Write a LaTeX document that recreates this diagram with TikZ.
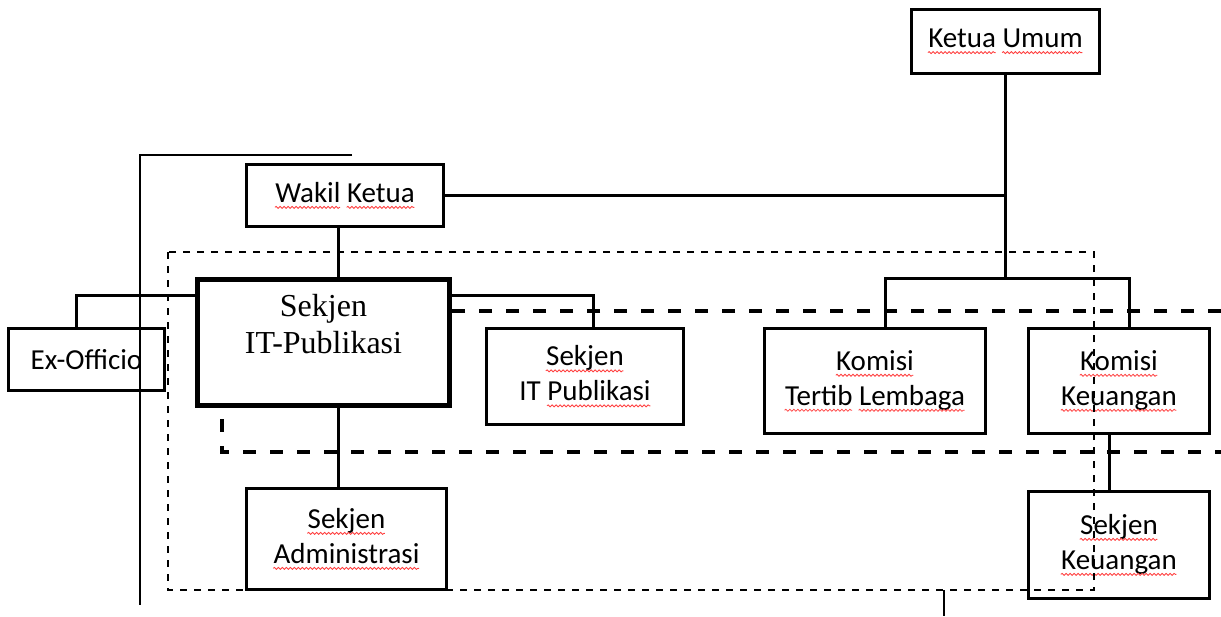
\documentclass[tikz,border=0pt]{standalone}
\usepackage{fontspec}
\setmainfont{Carlito}
\newfontfamily\timesfont{Liberation Serif}
\usetikzlibrary{decorations.pathmorphing}
\newsavebox\spellbox
\newcommand{\spell}[1]{\sbox\spellbox{#1}\usebox\spellbox\llap{\tikz[baseline=0pt]\draw[red!75, line width=0.4pt, decorate, decoration={snake, amplitude=0.5pt, segment length=2pt}] (0pt,-2.5pt) -- (\wd\spellbox,-2.5pt);}}

\begin{document}
\begin{tikzpicture}[x=0.5pt, y=-0.5pt]
            % Styles
            \tikzstyle{unit} = [rectangle, draw, line width=1.5pt, fill=white, align=center, inner sep=0pt, font=\fontsize{14.5}{17.5}\selectfont]
            \tikzstyle{chief} = [unit, line width=2.5pt, font=\timesfont\fontsize{16}{18.5}\selectfont]
            \tikzstyle{link} = [line width=1.5pt]
            \tikzstyle{frame} = [line width=0.75pt, dash pattern=on 3.5pt off 3.5pt]
            \tikzstyle{band} = [line width=2pt, dash pattern=on 6.5pt off 7pt]

            \useasboundingbox (0,0) rectangle (1221,616);

            % Dashed band behind the boxes
            \draw[band] (1221,311) -- (222,311) -- (222,452) -- (1221,452);

            % Nodes
            \node[unit, minimum width=94pt, minimum height=32pt] (ketua) at (1005.5, 41.5) {\spell{Ketua} \spell{Umum}};
            \node[unit, minimum width=98.5pt, minimum height=31pt] (wakil) at (345, 195.5) {\spell{Wakil} \spell{Ketua}};
            \node[chief, minimum width=126pt, minimum height=63pt] (itbig) at (323.5, 342.5) {Sekjen\\IT-Publikasi\\\mbox{}};
            \node[unit, minimum width=78pt, minimum height=31pt] (exoff) at (86.5, 359.5) {Ex-Officio};
            \node[unit, minimum width=98.5pt, minimum height=48pt] (itpub) at (585, 376.5) {\spell{Sekjen}\\IT \spell{Publikasi}};
            \node[unit, minimum width=110.5pt, minimum height=52.5pt] (tertib) at (875, 381) {\spell{Komisi}\\\spell{Tertib} \spell{Lembaga}};
            \node[unit, minimum width=90.5pt, minimum height=52.5pt] (kkeu) at (1119, 381) {\spell{Komisi}\\\spell{Keuangan}};
            \node[unit, minimum width=90.5pt, minimum height=53.5pt] (skeu) at (1119, 545) {\spell{Sekjen}\\\spell{Keuangan}};
            \node[unit, minimum width=100pt, minimum height=50.5pt] (admin) at (346.5, 539) {\spell{Sekjen}\\\spell{Administrasi}};

            % Connectors
            \draw[link] (ketua.south) -- (ketua.south |- 0,278);
            \draw[link] ([xshift=5pt]tertib.north) -- ++(0,-49) -| ([xshift=5pt]kkeu.north);
            \draw[link] (wakil.east) -- (wakil.east -| ketua.south);
            \draw[link] ([xshift=-3.5pt]wakil.south) -- ([xshift=-3.5pt]wakil.south |- itbig.north);
            \draw[link] ([xshift=7.25pt]itbig.south) -- ([xshift=7.25pt]itbig.south |- admin.north);
            \draw[link] ([yshift=23.75pt]itbig.west) -| ([xshift=-5.25pt]exoff.north);
            \draw[link] ([yshift=23.75pt]itbig.east) -| ([xshift=4pt]itpub.north);
            \draw[link] ([xshift=-5pt]kkeu.south) -- ([xshift=-5pt]kkeu.south |- skeu.north);

            % Frames and loose lines
            \draw[frame] (168,252) rectangle (1094,590);
            \draw[line width=1pt] (352,155) -- (140,155) -- (140,605);
            \draw[line width=1.2pt] (944,590) -- (944,616);
        \end{tikzpicture}
\end{document}
